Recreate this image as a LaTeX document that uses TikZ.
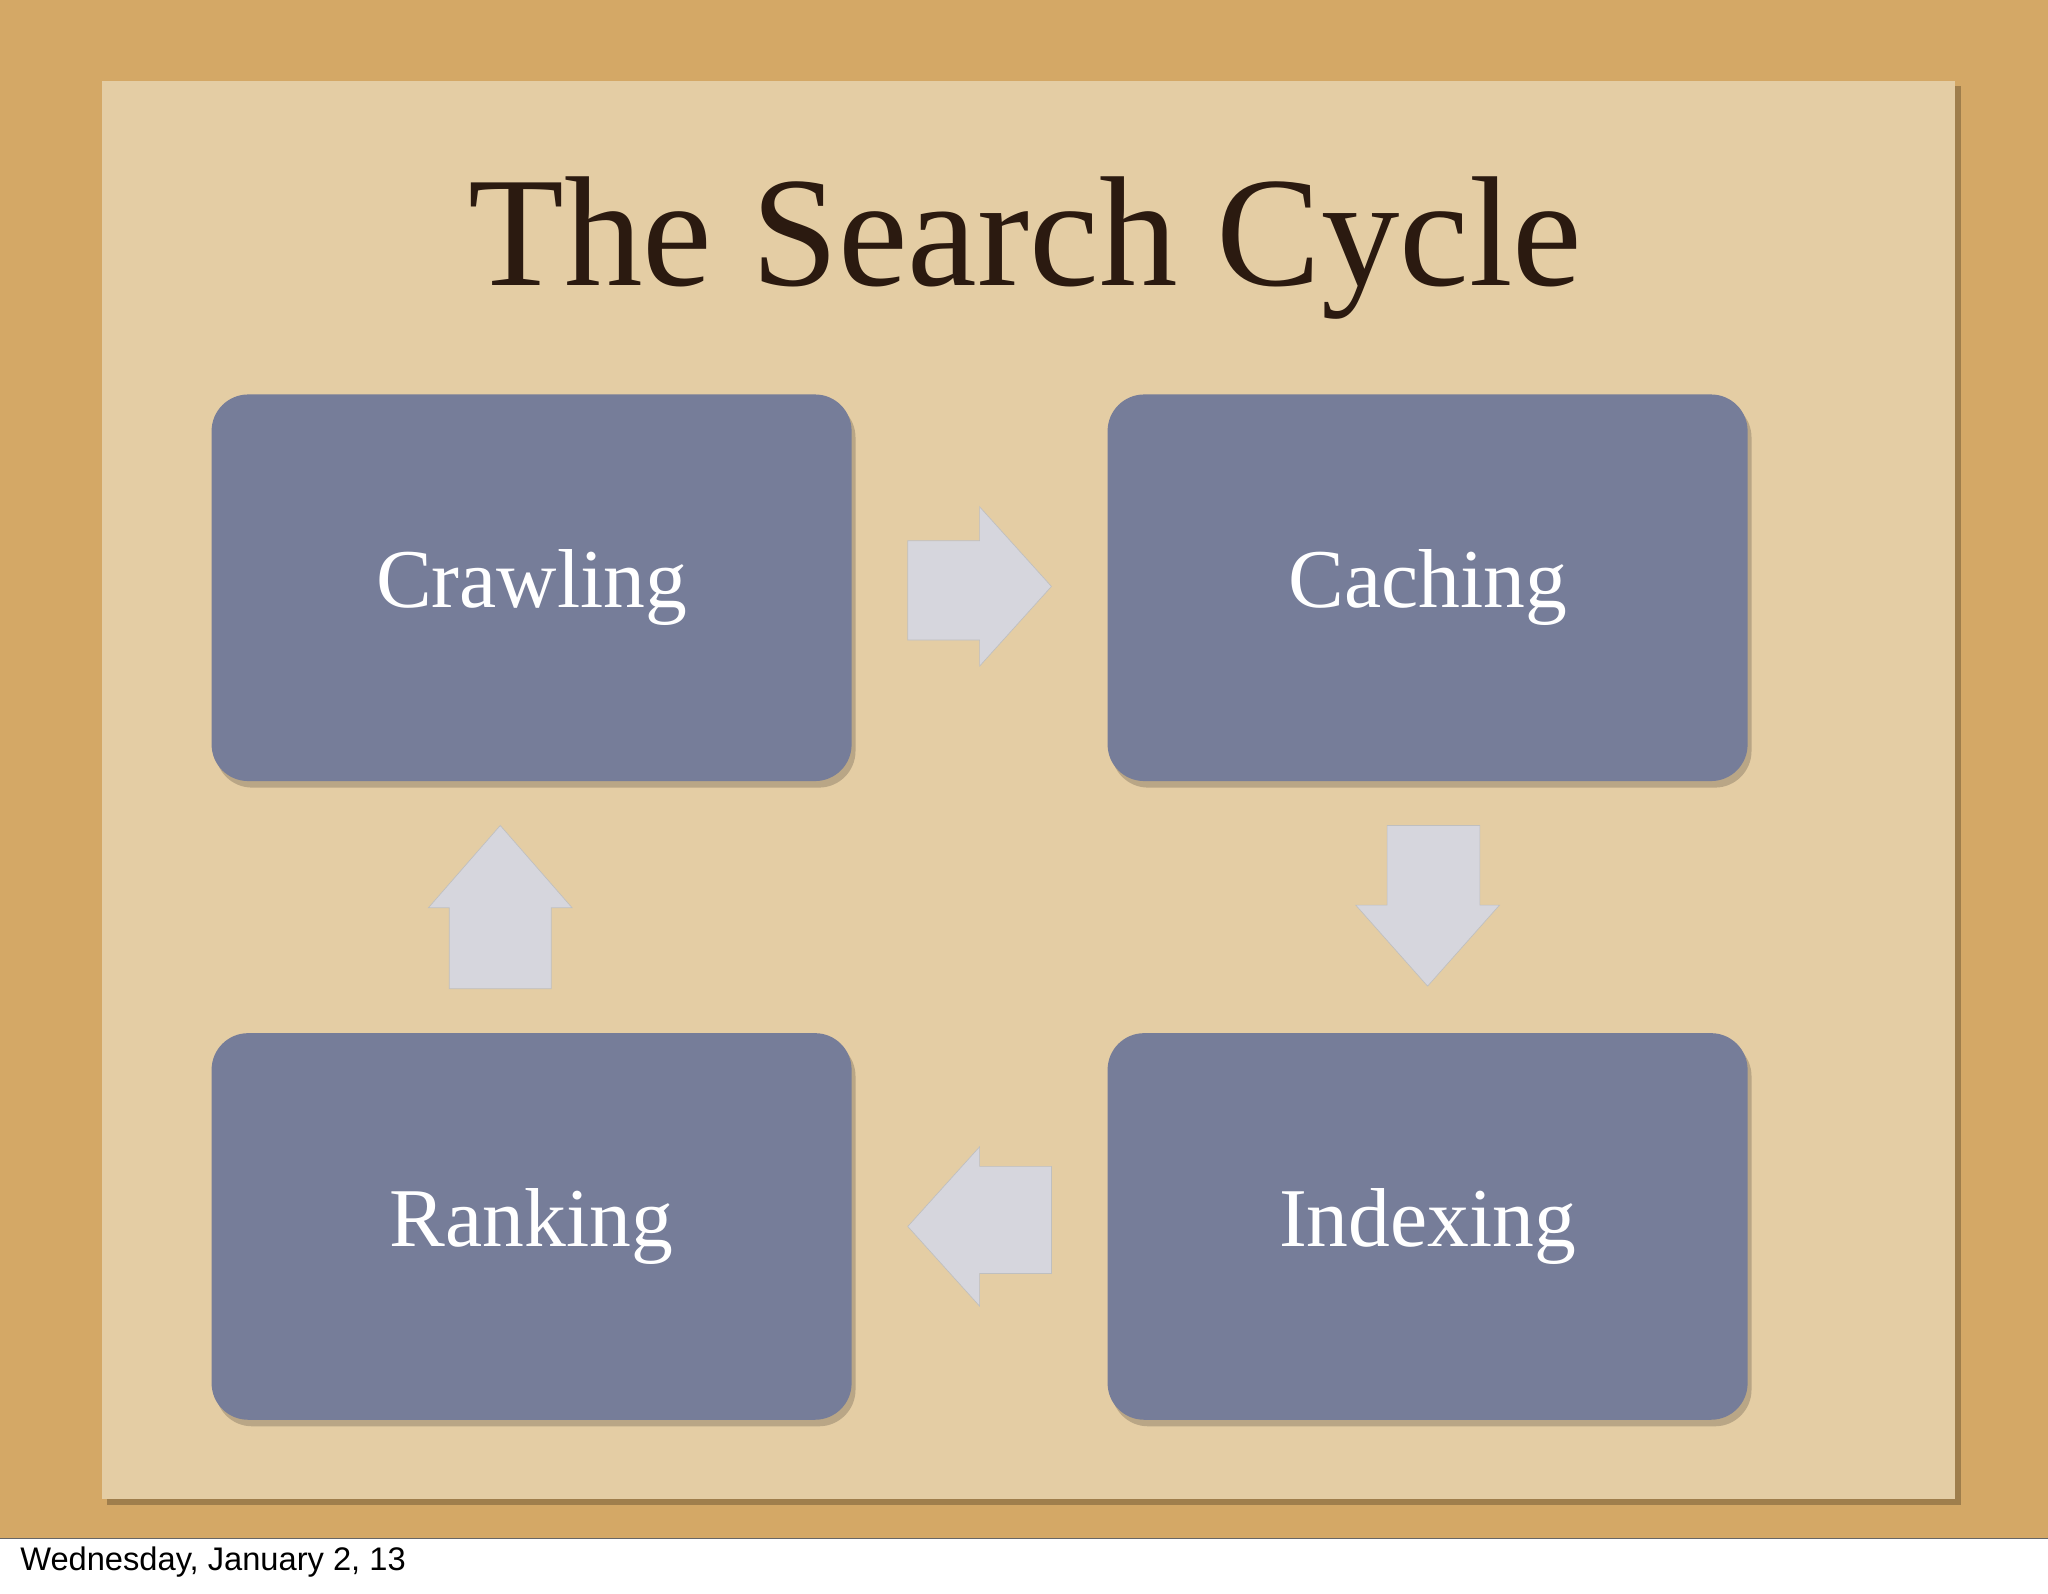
\documentclass[tikz,border=0pt]{standalone}
\usepackage{fontspec}
\setmainfont{Liberation Serif}
\newfontfamily\footfont{Liberation Sans}
\begin{document}
\begin{tikzpicture}[x=1pt,y=-1pt,
  arr/.style={fill=arrc,draw=black!25,line width=0.5pt},
  lbl/.style={text=white,font=\fontsize{64}{70}\selectfont}]
\definecolor{outer}{HTML}{D4A866}
\definecolor{paper}{HTML}{E4CDA4}
\definecolor{boxc}{HTML}{767D99}
\definecolor{arrc}{HTML}{D6D6DD}
\definecolor{ttl}{HTML}{2B1A10}
\definecolor{shad}{HTML}{B9A686}
\useasboundingbox (0,0) rectangle (1568,1220);
\fill[white] (0,0) rectangle (1568,1220);
\fill[outer] (0,0) rectangle (1568,1178);
\draw[black!60] (0,1178) -- (1568,1178);
\fill[black!25!outer] (82,66) rectangle (1501,1152);
\fill[paper] (78,62) rectangle (1497,1148);
\node[font=\footfont\fontsize{25}{27}\selectfont,anchor=west] (foot) at (12,1196) {Wednesday, January 2, 13};
\node[text=ttl,font=\fontsize{120}{122}\selectfont] (title) at (785,190) {The Search Cycle};
\foreach \n/\x/\y/\t in {crawl/407/450/Crawling,cache/1093/450/Caching,rank/407/939/Ranking,index/1093/939/Indexing}{
  \fill[shad,rounded corners=28pt] (\x-245+3,\y-148+5) rectangle (\x+245+3,\y+148+5);
  \fill[boxc,rounded corners=28pt] (\x-245,\y-148) rectangle (\x+245,\y+148);
  \node[lbl] (\n) at (\x,\y) {\t};
}
\draw[arr] (695,414) -- (750,414) -- (750,388) -- (805,449) -- (750,510) -- (750,490) -- (695,490) -- cycle;
\draw[arr] (1062,632) -- (1133,632) -- (1133,693) -- (1148,693) -- (1093,755) -- (1038,693) -- (1062,693) -- cycle;
\draw[arr] (805,893) -- (750,893) -- (750,878) -- (695,939) -- (750,1000) -- (750,975) -- (805,975) -- cycle;
\draw[arr] (344,757) -- (422,757) -- (422,695) -- (438,695) -- (383,632) -- (328,695) -- (344,695) -- cycle;
\end{tikzpicture}
\end{document}
